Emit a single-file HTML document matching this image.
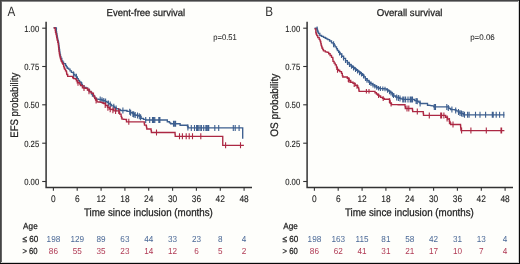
<!DOCTYPE html>
<html><head><meta charset="utf-8"><style>
html,body{margin:0;padding:0;background:#fefefb;}
#w{position:relative;width:520px;height:264px;overflow:hidden;background:#fefefb;}
svg{position:absolute;left:0;top:0;}
text{font-family:"Liberation Sans", sans-serif;stroke:currentColor;stroke-width:0.25px;paint-order:stroke;}
svg{text-rendering:geometricPrecision;will-change:transform;}
.b{position:absolute;}
</style></head><body><div id="w">
<svg width="520" height="264" viewBox="0 0 520 264">
<text transform="translate(7.4,16.3) scale(0.86,1)" font-size="13.6" fill="#333" style="stroke-width:0">A</text>
<text x="106.6" y="16.2" font-size="10" textLength="78.6" lengthAdjust="spacingAndGlyphs" fill="#222" color="#222">Event-free survival</text>
<path d="M46.1 21.8 V187.4 H252.0" fill="none" stroke="#333" stroke-width="1.5"/>
<line x1="42.2" x2="46.1" y1="28.2" y2="28.2" stroke="#333" stroke-width="1.1"/>
<text x="39.2" y="31.8" font-size="9.0" text-anchor="end" textLength="15.0" lengthAdjust="spacingAndGlyphs" fill="#222" color="#222" style="stroke-width:0.1px">1.00</text>
<line x1="42.2" x2="46.1" y1="66.5" y2="66.5" stroke="#333" stroke-width="1.1"/>
<text x="39.2" y="70.1" font-size="9.0" text-anchor="end" textLength="15.0" lengthAdjust="spacingAndGlyphs" fill="#222" color="#222" style="stroke-width:0.1px">0.75</text>
<line x1="42.2" x2="46.1" y1="104.8" y2="104.8" stroke="#333" stroke-width="1.1"/>
<text x="39.2" y="108.4" font-size="9.0" text-anchor="end" textLength="15.0" lengthAdjust="spacingAndGlyphs" fill="#222" color="#222" style="stroke-width:0.1px">0.50</text>
<line x1="42.2" x2="46.1" y1="143.2" y2="143.2" stroke="#333" stroke-width="1.1"/>
<text x="39.2" y="146.8" font-size="9.0" text-anchor="end" textLength="15.0" lengthAdjust="spacingAndGlyphs" fill="#222" color="#222" style="stroke-width:0.1px">0.25</text>
<line x1="42.2" x2="46.1" y1="181.5" y2="181.5" stroke="#333" stroke-width="1.1"/>
<text x="39.2" y="185.1" font-size="9.0" text-anchor="end" textLength="15.0" lengthAdjust="spacingAndGlyphs" fill="#222" color="#222" style="stroke-width:0.1px">0.00</text>
<line x1="53.4" x2="53.4" y1="187.4" y2="190.8" stroke="#333" stroke-width="1.1"/>
<text transform="translate(53.40,201.9) scale(0.88,1)" font-size="9.5" text-anchor="middle" fill="#222" color="#222" style="stroke-width:0.1px">0</text>
<line x1="77.2" x2="77.2" y1="187.4" y2="190.8" stroke="#333" stroke-width="1.1"/>
<text transform="translate(77.24,201.9) scale(0.88,1)" font-size="9.5" text-anchor="middle" fill="#222" color="#222" style="stroke-width:0.1px">6</text>
<line x1="101.1" x2="101.1" y1="187.4" y2="190.8" stroke="#333" stroke-width="1.1"/>
<text transform="translate(101.07,201.9) scale(0.88,1)" font-size="9.5" text-anchor="middle" fill="#222" color="#222" style="stroke-width:0.1px">12</text>
<line x1="124.9" x2="124.9" y1="187.4" y2="190.8" stroke="#333" stroke-width="1.1"/>
<text transform="translate(124.91,201.9) scale(0.88,1)" font-size="9.5" text-anchor="middle" fill="#222" color="#222" style="stroke-width:0.1px">18</text>
<line x1="148.7" x2="148.7" y1="187.4" y2="190.8" stroke="#333" stroke-width="1.1"/>
<text transform="translate(148.75,201.9) scale(0.88,1)" font-size="9.5" text-anchor="middle" fill="#222" color="#222" style="stroke-width:0.1px">24</text>
<line x1="172.6" x2="172.6" y1="187.4" y2="190.8" stroke="#333" stroke-width="1.1"/>
<text transform="translate(172.59,201.9) scale(0.88,1)" font-size="9.5" text-anchor="middle" fill="#222" color="#222" style="stroke-width:0.1px">30</text>
<line x1="196.4" x2="196.4" y1="187.4" y2="190.8" stroke="#333" stroke-width="1.1"/>
<text transform="translate(196.43,201.9) scale(0.88,1)" font-size="9.5" text-anchor="middle" fill="#222" color="#222" style="stroke-width:0.1px">36</text>
<line x1="220.3" x2="220.3" y1="187.4" y2="190.8" stroke="#333" stroke-width="1.1"/>
<text transform="translate(220.26,201.9) scale(0.88,1)" font-size="9.5" text-anchor="middle" fill="#222" color="#222" style="stroke-width:0.1px">42</text>
<line x1="244.1" x2="244.1" y1="187.4" y2="190.8" stroke="#333" stroke-width="1.1"/>
<text transform="translate(244.10,201.9) scale(0.88,1)" font-size="9.5" text-anchor="middle" fill="#222" color="#222" style="stroke-width:0.1px">48</text>
<text x="83.9" y="215.9" font-size="10.9" textLength="129" lengthAdjust="spacingAndGlyphs" fill="#222" color="#222">Time since inclusion (months)</text>
<text transform="translate(17.9,105.2) rotate(-90)" x="0" y="0" font-size="10.9" text-anchor="middle" textLength="65" lengthAdjust="spacingAndGlyphs" fill="#222" color="#222">EFS probability</text>
<text x="213.3" y="39.5" font-size="8.2" textLength="23.4" lengthAdjust="spacingAndGlyphs" fill="#222" color="#222" style="stroke-width:0.05px">p=0.51</text>
<text x="23.1" y="228.9" font-size="8.8" textLength="14.6" lengthAdjust="spacingAndGlyphs" fill="#222" color="#222">Age</text>
<text x="22.4" y="241.6" font-size="8.8" textLength="15.8" lengthAdjust="spacingAndGlyphs" fill="#222" color="#222">≤ 60</text>
<text x="22.4" y="254.1" font-size="8.8" textLength="15.2" lengthAdjust="spacingAndGlyphs" fill="#222" color="#222">&gt; 60</text>
<text transform="translate(53.40,241.6) scale(0.94,1)" font-size="8.7" text-anchor="middle" fill="#4a6896" style="stroke-width:0">198</text>
<text transform="translate(77.24,241.6) scale(0.94,1)" font-size="8.7" text-anchor="middle" fill="#4a6896" style="stroke-width:0">129</text>
<text transform="translate(101.07,241.6) scale(0.94,1)" font-size="8.7" text-anchor="middle" fill="#4a6896" style="stroke-width:0">89</text>
<text transform="translate(124.91,241.6) scale(0.94,1)" font-size="8.7" text-anchor="middle" fill="#4a6896" style="stroke-width:0">63</text>
<text transform="translate(148.75,241.6) scale(0.94,1)" font-size="8.7" text-anchor="middle" fill="#4a6896" style="stroke-width:0">44</text>
<text transform="translate(172.59,241.6) scale(0.94,1)" font-size="8.7" text-anchor="middle" fill="#4a6896" style="stroke-width:0">33</text>
<text transform="translate(196.43,241.6) scale(0.94,1)" font-size="8.7" text-anchor="middle" fill="#4a6896" style="stroke-width:0">23</text>
<text transform="translate(220.26,241.6) scale(0.94,1)" font-size="8.7" text-anchor="middle" fill="#4a6896" style="stroke-width:0">8</text>
<text transform="translate(244.10,241.6) scale(0.94,1)" font-size="8.7" text-anchor="middle" fill="#4a6896" style="stroke-width:0">4</text>
<text transform="translate(53.40,254.1) scale(0.94,1)" font-size="8.7" text-anchor="middle" fill="#b03a55" style="stroke-width:0">86</text>
<text transform="translate(77.24,254.1) scale(0.94,1)" font-size="8.7" text-anchor="middle" fill="#b03a55" style="stroke-width:0">55</text>
<text transform="translate(101.07,254.1) scale(0.94,1)" font-size="8.7" text-anchor="middle" fill="#b03a55" style="stroke-width:0">35</text>
<text transform="translate(124.91,254.1) scale(0.94,1)" font-size="8.7" text-anchor="middle" fill="#b03a55" style="stroke-width:0">23</text>
<text transform="translate(148.75,254.1) scale(0.94,1)" font-size="8.7" text-anchor="middle" fill="#b03a55" style="stroke-width:0">14</text>
<text transform="translate(172.59,254.1) scale(0.94,1)" font-size="8.7" text-anchor="middle" fill="#b03a55" style="stroke-width:0">12</text>
<text transform="translate(196.43,254.1) scale(0.94,1)" font-size="8.7" text-anchor="middle" fill="#b03a55" style="stroke-width:0">6</text>
<text transform="translate(220.26,254.1) scale(0.94,1)" font-size="8.7" text-anchor="middle" fill="#b03a55" style="stroke-width:0">5</text>
<text transform="translate(244.10,254.1) scale(0.94,1)" font-size="8.7" text-anchor="middle" fill="#b03a55" style="stroke-width:0">2</text>
<text transform="translate(265.2,16.3) scale(0.86,1)" font-size="13.6" fill="#333" style="stroke-width:0">B</text>
<text x="376.7" y="16.2" font-size="10" textLength="65.8" lengthAdjust="spacingAndGlyphs" fill="#222" color="#222">Overall survival</text>
<path d="M307.1 21.8 V187.4 H513.0" fill="none" stroke="#333" stroke-width="1.5"/>
<line x1="303.2" x2="307.1" y1="28.2" y2="28.2" stroke="#333" stroke-width="1.1"/>
<text x="300.2" y="31.8" font-size="9.0" text-anchor="end" textLength="15.0" lengthAdjust="spacingAndGlyphs" fill="#222" color="#222" style="stroke-width:0.1px">1.00</text>
<line x1="303.2" x2="307.1" y1="66.5" y2="66.5" stroke="#333" stroke-width="1.1"/>
<text x="300.2" y="70.1" font-size="9.0" text-anchor="end" textLength="15.0" lengthAdjust="spacingAndGlyphs" fill="#222" color="#222" style="stroke-width:0.1px">0.75</text>
<line x1="303.2" x2="307.1" y1="104.8" y2="104.8" stroke="#333" stroke-width="1.1"/>
<text x="300.2" y="108.4" font-size="9.0" text-anchor="end" textLength="15.0" lengthAdjust="spacingAndGlyphs" fill="#222" color="#222" style="stroke-width:0.1px">0.50</text>
<line x1="303.2" x2="307.1" y1="143.2" y2="143.2" stroke="#333" stroke-width="1.1"/>
<text x="300.2" y="146.8" font-size="9.0" text-anchor="end" textLength="15.0" lengthAdjust="spacingAndGlyphs" fill="#222" color="#222" style="stroke-width:0.1px">0.25</text>
<line x1="303.2" x2="307.1" y1="181.5" y2="181.5" stroke="#333" stroke-width="1.1"/>
<text x="300.2" y="185.1" font-size="9.0" text-anchor="end" textLength="15.0" lengthAdjust="spacingAndGlyphs" fill="#222" color="#222" style="stroke-width:0.1px">0.00</text>
<line x1="314.4" x2="314.4" y1="187.4" y2="190.8" stroke="#333" stroke-width="1.1"/>
<text transform="translate(314.40,201.9) scale(0.88,1)" font-size="9.5" text-anchor="middle" fill="#222" color="#222" style="stroke-width:0.1px">0</text>
<line x1="338.2" x2="338.2" y1="187.4" y2="190.8" stroke="#333" stroke-width="1.1"/>
<text transform="translate(338.24,201.9) scale(0.88,1)" font-size="9.5" text-anchor="middle" fill="#222" color="#222" style="stroke-width:0.1px">6</text>
<line x1="362.1" x2="362.1" y1="187.4" y2="190.8" stroke="#333" stroke-width="1.1"/>
<text transform="translate(362.07,201.9) scale(0.88,1)" font-size="9.5" text-anchor="middle" fill="#222" color="#222" style="stroke-width:0.1px">12</text>
<line x1="385.9" x2="385.9" y1="187.4" y2="190.8" stroke="#333" stroke-width="1.1"/>
<text transform="translate(385.91,201.9) scale(0.88,1)" font-size="9.5" text-anchor="middle" fill="#222" color="#222" style="stroke-width:0.1px">18</text>
<line x1="409.8" x2="409.8" y1="187.4" y2="190.8" stroke="#333" stroke-width="1.1"/>
<text transform="translate(409.75,201.9) scale(0.88,1)" font-size="9.5" text-anchor="middle" fill="#222" color="#222" style="stroke-width:0.1px">24</text>
<line x1="433.6" x2="433.6" y1="187.4" y2="190.8" stroke="#333" stroke-width="1.1"/>
<text transform="translate(433.59,201.9) scale(0.88,1)" font-size="9.5" text-anchor="middle" fill="#222" color="#222" style="stroke-width:0.1px">30</text>
<line x1="457.4" x2="457.4" y1="187.4" y2="190.8" stroke="#333" stroke-width="1.1"/>
<text transform="translate(457.43,201.9) scale(0.88,1)" font-size="9.5" text-anchor="middle" fill="#222" color="#222" style="stroke-width:0.1px">36</text>
<line x1="481.3" x2="481.3" y1="187.4" y2="190.8" stroke="#333" stroke-width="1.1"/>
<text transform="translate(481.26,201.9) scale(0.88,1)" font-size="9.5" text-anchor="middle" fill="#222" color="#222" style="stroke-width:0.1px">42</text>
<line x1="505.1" x2="505.1" y1="187.4" y2="190.8" stroke="#333" stroke-width="1.1"/>
<text transform="translate(505.10,201.9) scale(0.88,1)" font-size="9.5" text-anchor="middle" fill="#222" color="#222" style="stroke-width:0.1px">48</text>
<text x="344.9" y="215.9" font-size="10.9" textLength="129" lengthAdjust="spacingAndGlyphs" fill="#222" color="#222">Time since inclusion (months)</text>
<text transform="translate(277.6,105.2) rotate(-90)" x="0" y="0" font-size="10.9" text-anchor="middle" textLength="63" lengthAdjust="spacingAndGlyphs" fill="#222" color="#222">OS probability</text>
<text x="470.2" y="39.5" font-size="8.2" textLength="24.6" lengthAdjust="spacingAndGlyphs" fill="#222" color="#222" style="stroke-width:0.05px">p=0.06</text>
<text x="283.3" y="228.9" font-size="8.8" textLength="14.6" lengthAdjust="spacingAndGlyphs" fill="#222" color="#222">Age</text>
<text x="282.6" y="241.6" font-size="8.8" textLength="15.8" lengthAdjust="spacingAndGlyphs" fill="#222" color="#222">≤ 60</text>
<text x="282.6" y="254.1" font-size="8.8" textLength="15.2" lengthAdjust="spacingAndGlyphs" fill="#222" color="#222">&gt; 60</text>
<text transform="translate(314.40,241.6) scale(0.94,1)" font-size="8.7" text-anchor="middle" fill="#4a6896" style="stroke-width:0">198</text>
<text transform="translate(338.24,241.6) scale(0.94,1)" font-size="8.7" text-anchor="middle" fill="#4a6896" style="stroke-width:0">163</text>
<text transform="translate(362.07,241.6) scale(0.94,1)" font-size="8.7" text-anchor="middle" fill="#4a6896" style="stroke-width:0">115</text>
<text transform="translate(385.91,241.6) scale(0.94,1)" font-size="8.7" text-anchor="middle" fill="#4a6896" style="stroke-width:0">81</text>
<text transform="translate(409.75,241.6) scale(0.94,1)" font-size="8.7" text-anchor="middle" fill="#4a6896" style="stroke-width:0">58</text>
<text transform="translate(433.59,241.6) scale(0.94,1)" font-size="8.7" text-anchor="middle" fill="#4a6896" style="stroke-width:0">42</text>
<text transform="translate(457.43,241.6) scale(0.94,1)" font-size="8.7" text-anchor="middle" fill="#4a6896" style="stroke-width:0">31</text>
<text transform="translate(481.26,241.6) scale(0.94,1)" font-size="8.7" text-anchor="middle" fill="#4a6896" style="stroke-width:0">13</text>
<text transform="translate(505.10,241.6) scale(0.94,1)" font-size="8.7" text-anchor="middle" fill="#4a6896" style="stroke-width:0">4</text>
<text transform="translate(314.40,254.1) scale(0.94,1)" font-size="8.7" text-anchor="middle" fill="#b03a55" style="stroke-width:0">86</text>
<text transform="translate(338.24,254.1) scale(0.94,1)" font-size="8.7" text-anchor="middle" fill="#b03a55" style="stroke-width:0">62</text>
<text transform="translate(362.07,254.1) scale(0.94,1)" font-size="8.7" text-anchor="middle" fill="#b03a55" style="stroke-width:0">41</text>
<text transform="translate(385.91,254.1) scale(0.94,1)" font-size="8.7" text-anchor="middle" fill="#b03a55" style="stroke-width:0">31</text>
<text transform="translate(409.75,254.1) scale(0.94,1)" font-size="8.7" text-anchor="middle" fill="#b03a55" style="stroke-width:0">21</text>
<text transform="translate(433.59,254.1) scale(0.94,1)" font-size="8.7" text-anchor="middle" fill="#b03a55" style="stroke-width:0">17</text>
<text transform="translate(457.43,254.1) scale(0.94,1)" font-size="8.7" text-anchor="middle" fill="#b03a55" style="stroke-width:0">10</text>
<text transform="translate(481.26,254.1) scale(0.94,1)" font-size="8.7" text-anchor="middle" fill="#b03a55" style="stroke-width:0">7</text>
<text transform="translate(505.10,254.1) scale(0.94,1)" font-size="8.7" text-anchor="middle" fill="#b03a55" style="stroke-width:0">4</text>
<path d="M53.60 27.60 L56.50 27.60 L56.40 27.60 L56.40 29.07 L56.30 29.07 L56.30 30.53 L56.20 30.53 L56.20 32.00 L56.60 32.00 L56.60 34.00 L57.00 34.00 L57.00 36.00 L57.27 36.00 L57.27 37.47 L57.53 37.47 L57.53 38.93 L57.80 38.93 L57.80 40.40 L58.20 40.40 L58.20 42.20 L58.60 42.20 L58.60 44.00 L58.85 44.00 L58.85 45.80 L59.10 45.80 L59.10 47.60 L59.35 47.60 L59.35 49.45 L59.60 49.45 L59.60 51.30 L59.85 51.30 L59.85 53.10 L60.10 53.10 L60.10 54.90 L60.50 54.90 L60.50 56.70 L60.90 56.70 L60.90 58.50 L61.80 58.50 L61.80 60.90 L62.70 60.90 L62.70 62.25 L63.60 62.25 L63.60 63.60 L65.50 63.60 L65.50 65.50 L66.40 65.50 L66.40 66.85 L67.30 66.85 L67.30 68.20 L68.60 68.20 L68.60 69.10 L70.00 69.10 L70.00 70.90 L71.40 70.90 L71.40 72.30 L73.20 72.30 L73.20 72.70 L73.60 72.70 L73.60 74.50 L75.00 74.50 L75.00 75.90 L76.40 75.90 L76.40 76.80 L77.30 76.80 L77.30 78.60 L78.20 78.60 L78.20 80.50 L79.50 80.50 L79.50 81.80 L80.90 81.80 L80.90 82.70 L81.65 82.70 L81.65 84.30 L82.40 84.30 L82.40 85.90 L84.00 85.90 L84.00 87.40 L86.00 87.40 L86.00 88.20 L87.80 88.20 L87.80 89.80 L89.50 89.80 L89.50 91.80 L91.50 91.80 L91.50 94.00 L92.50 94.00 L92.50 96.00 L94.70 96.00 L94.70 98.20 L96.50 98.20 L96.50 99.10 L98.35 99.10 L98.35 99.30 L100.20 99.30 L100.20 99.50 L101.55 99.50 L101.55 100.00 L102.90 100.00 L102.90 100.50 L105.20 100.50 L105.20 101.40 L107.00 101.40 L107.00 102.30 L108.40 102.30 L108.40 103.60 L110.20 103.60 L110.20 104.50 L111.50 104.50 L111.50 105.90 L113.80 105.90 L113.80 106.80 L114.70 106.80 L114.70 107.70 L116.10 107.70 L116.10 108.60 L118.40 108.60 L118.40 109.50 L120.20 109.50 L120.20 110.50 L124.70 110.50 L127.00 110.50 L127.00 111.40 L129.30 111.40 L130.60 111.40 L130.60 112.70 L132.50 112.70 L132.50 113.60 L134.30 113.60 L134.30 115.00 L135.90 115.00 L135.90 115.25 L137.50 115.25 L137.50 115.50 L138.85 115.50 L138.85 116.00 L140.20 116.00 L140.20 116.50 L141.10 116.50 L141.10 118.30 L143.40 118.30 L143.40 119.40 L145.70 119.40 L145.70 120.00 L166.10 120.00 L167.30 120.00 L167.30 121.70 L169.50 121.70 L169.50 122.80 L170.70 122.80 L170.70 123.70 L179.50 123.70 L180.10 123.70 L180.10 125.20 L186.90 125.20 L187.50 125.20 L187.50 126.55 L188.10 126.55 L188.10 127.90 L242.70 127.90 L242.70 138.70" fill="none" stroke="#3d5f8f" stroke-width="1.35" stroke-linejoin="miter"/>
<path d="M73.6 71.5V77.5 M76.4 73.8V79.8 M100.2 96.5V102.5 M102.0 97.2V103.2 M103.8 97.9V103.9 M105.6 98.6V104.6 M108.4 100.6V106.6 M110.2 101.5V107.5 M113.8 103.8V109.8 M116.1 105.6V111.6 M122.9 107.5V113.5 M129.7 108.8V114.8 M130.6 109.7V115.7 M132.9 110.9V116.9 M133.8 111.6V117.6 M135.2 112.1V118.1 M137.5 112.5V118.5 M139.3 113.2V119.2 M140.6 114.3V120.3 M145.7 117.0V123.0 M149.7 117.0V123.0 M152.5 117.0V123.0 M153.6 117.0V123.0 M154.8 117.0V123.0 M158.8 117.0V123.0 M159.9 117.0V123.0 M173.5 120.7V126.7 M174.7 120.7V126.7 M175.6 120.7V126.7 M187.9 124.5V130.5 M191.3 124.9V130.9 M194.5 124.9V130.9 M196.6 124.9V130.9 M197.4 124.9V130.9 M198.2 124.9V130.9 M200.0 124.9V130.9 M201.4 124.9V130.9 M203.7 124.9V130.9 M205.9 124.9V130.9 M206.4 124.9V130.9 M207.7 124.9V130.9 M208.7 124.9V130.9 M214.8 124.9V130.9 M218.7 124.9V130.9 M233.3 124.9V130.9 M235.2 124.9V130.9 M239.1 124.9V130.9" stroke="#3d5f8f" stroke-width="1.1"/>
<path d="M53.60 28.00 L55.00 28.00 L55.00 28.30 L55.25 28.30 L55.25 30.25 L55.50 30.25 L55.50 32.20 L55.95 32.20 L55.95 34.00 L56.40 34.00 L56.40 35.80 L56.70 35.80 L56.70 37.33 L57.00 37.33 L57.00 38.87 L57.30 38.87 L57.30 40.40 L57.75 40.40 L57.75 42.20 L58.20 42.20 L58.20 44.00 L58.40 44.00 L58.40 45.80 L58.60 45.80 L58.60 47.60 L58.80 47.60 L58.80 49.45 L59.00 49.45 L59.00 51.30 L59.25 51.30 L59.25 53.10 L59.50 53.10 L59.50 54.90 L59.95 54.90 L59.95 56.70 L60.40 56.70 L60.40 58.50 L60.85 58.50 L60.85 59.90 L61.30 59.90 L61.30 61.30 L62.00 61.30 L62.00 62.70 L62.70 62.70 L62.70 64.10 L63.60 64.10 L63.60 66.40 L64.05 66.40 L64.05 67.75 L64.50 67.75 L64.50 69.10 L65.50 69.10 L65.50 70.90 L66.40 70.90 L66.40 71.80 L66.60 71.80 L66.60 73.15 L66.80 73.15 L66.80 74.50 L67.70 74.50 L67.70 76.40 L71.80 76.40 L72.70 76.40 L72.70 77.70 L73.60 77.70 L73.60 78.60 L75.50 78.60 L75.50 79.10 L76.40 79.10 L76.40 80.90 L77.30 80.90 L77.30 82.70 L79.10 82.70 L79.80 82.70 L79.80 84.10 L80.50 84.10 L80.50 85.50 L82.40 85.50 L82.40 87.80 L83.75 87.80 L83.75 88.00 L85.10 88.00 L85.10 88.20 L87.40 88.20 L87.40 90.00 L89.20 90.00 L89.20 91.40 L91.00 91.40 L91.00 92.80 L92.00 92.80 L92.00 93.20 L93.40 93.20 L93.40 95.50 L94.13 95.50 L94.13 97.00 L94.87 97.00 L94.87 98.50 L95.60 98.50 L95.60 100.00 L97.00 100.00 L97.00 101.80 L98.37 101.80 L98.37 101.97 L99.73 101.97 L99.73 102.13 L101.10 102.13 L101.10 102.30 L102.45 102.30 L102.45 102.95 L103.80 102.95 L103.80 103.60 L105.60 103.60 L105.60 105.50 L107.50 105.50 L107.50 107.30 L109.30 107.30 L109.30 109.10 L110.65 109.10 L110.65 109.30 L112.00 109.30 L112.00 109.50 L113.80 109.50 L113.80 110.90 L118.80 110.90 L119.25 110.90 L119.25 112.50 L119.70 112.50 L119.70 114.10 L121.10 114.10 L121.10 116.40 L121.55 116.40 L121.55 117.75 L122.00 117.75 L122.00 119.10 L123.80 119.10 L123.80 119.30 L125.60 119.30 L125.60 119.50 L126.50 119.50 L126.50 121.80 L144.00 121.80 L144.25 121.80 L144.25 123.45 L144.50 123.45 L144.50 125.10 L146.30 125.10 L146.30 126.20 L146.55 126.20 L146.55 127.60 L146.80 127.60 L146.80 129.00 L150.80 129.00 L151.10 129.00 L151.10 130.75 L151.40 130.75 L151.40 132.50 L174.90 132.50 L175.05 132.50 L175.05 134.40 L175.20 134.40 L175.20 136.30 L222.75 136.30 L222.75 145.30 L243.90 145.30" fill="none" stroke="#ac2843" stroke-width="1.35" stroke-linejoin="miter"/>
<path d="M78.0 79.7V85.7 M84.0 85.0V91.0 M89.0 88.2V94.2 M96.1 97.6V103.6 M105.2 102.1V108.1 M107.9 104.7V110.7 M110.2 106.2V112.2 M112.9 107.2V113.2 M115.6 107.9V113.9 M118.8 107.9V113.9 M128.8 118.8V124.8 M156.5 129.5V135.5 M179.5 133.3V139.3 M182.4 133.3V139.3 M186.2 133.3V139.3 M189.2 133.3V139.3 M192.5 133.3V139.3 M200.8 133.3V139.3 M225.6 142.3V148.3 M240.5 142.3V148.3" stroke="#ac2843" stroke-width="1.1"/>
<path d="M314.60 28.20 L316.60 28.20 L317.05 28.20 L317.05 29.50 L317.50 29.50 L317.50 30.80 L318.00 30.80 L318.00 32.15 L318.50 32.15 L318.50 33.50 L319.80 33.50 L319.80 35.50 L321.60 35.50 L321.60 36.40 L323.50 36.40 L323.50 37.30 L325.30 37.30 L325.30 38.20 L326.55 38.20 L326.55 38.90 L327.80 38.90 L327.80 39.60 L329.60 39.60 L329.60 41.00 L331.50 41.00 L331.50 42.80 L333.30 42.80 L333.30 43.70 L334.20 43.70 L334.20 45.10 L335.10 45.10 L335.10 46.90 L336.50 46.90 L336.50 48.70 L337.40 48.70 L337.40 50.50 L338.70 50.50 L338.70 52.40 L340.10 52.40 L340.10 54.00 L341.80 54.00 L341.80 56.20 L343.60 56.20 L343.60 58.40 L345.50 58.40 L345.50 60.60 L347.30 60.60 L347.30 62.50 L349.10 62.50 L349.10 64.40 L350.90 64.40 L350.90 66.00 L352.70 66.00 L352.70 67.40 L354.50 67.40 L354.50 68.90 L356.40 68.90 L356.40 70.30 L358.20 70.30 L358.20 71.90 L360.50 71.90 L360.50 73.60 L362.70 73.60 L362.70 75.20 L364.00 75.20 L364.00 76.90 L365.30 76.90 L365.30 78.60 L367.10 78.60 L367.10 80.50 L368.90 80.50 L368.90 82.30 L370.70 82.30 L370.70 83.60 L372.50 83.60 L372.50 84.80 L374.40 84.80 L374.40 86.00 L376.20 86.00 L376.20 87.20 L378.00 87.20 L378.00 88.00 L379.80 88.00 L379.80 88.60 L381.37 88.60 L381.37 88.67 L382.93 88.67 L382.93 88.73 L384.50 88.73 L384.50 88.80 L386.50 88.80 L386.50 89.80 L388.40 89.80 L388.40 91.10 L390.20 91.10 L390.20 92.50 L392.00 92.50 L392.00 93.90 L393.80 93.90 L393.80 96.00 L395.70 96.00 L395.70 97.10 L398.00 97.10 L398.00 97.70 L399.40 97.70 L399.40 98.25 L400.80 98.25 L400.80 98.80 L402.50 98.80 L402.50 99.40 L412.70 99.40 L414.40 99.40 L414.40 100.50 L416.10 100.50 L416.10 100.90 L417.80 100.90 L417.80 101.30 L419.00 101.30 L419.00 102.40 L420.10 102.40 L420.10 103.50 L426.40 103.50 L427.50 103.50 L427.50 105.20 L429.00 105.20 L429.00 105.40 L430.50 105.40 L430.50 105.60 L432.00 105.60 L432.00 105.80 L433.80 105.80 L433.80 106.90 L447.10 106.90 L448.90 106.90 L448.90 108.50 L450.70 108.50 L450.70 109.50 L452.07 109.50 L452.07 109.57 L453.43 109.57 L453.43 109.63 L454.80 109.63 L454.80 109.70 L455.90 109.70 L455.90 110.80 L458.20 110.80 L458.20 111.90 L459.90 111.90 L459.90 113.10 L461.30 113.10 L461.30 113.35 L462.70 113.35 L462.70 113.60 L463.60 113.60 L463.60 114.80 L504.40 114.80" fill="none" stroke="#3d5f8f" stroke-width="1.35" stroke-linejoin="miter"/>
<path d="M317.1 26.6V32.6 M333.6 41.2V47.2 M339.5 51.0V55.6 M341.5 53.5V58.1 M343.5 56.0V60.6 M345.5 58.3V62.9 M347.5 60.4V65.0 M349.5 62.5V67.1 M351.5 64.2V68.8 M353.5 65.8V70.4 M355.5 67.3V71.9 M357.5 69.0V73.6 M359.5 70.6V75.2 M361.5 72.0V76.6 M363.5 73.9V78.5 M365.5 76.5V81.1 M367.0 78.1V82.7 M369.5 80.4V85.0 M371.0 81.5V86.1 M373.0 82.8V87.4 M374.8 84.0V88.6 M376.7 85.1V89.7 M378.5 85.9V90.5 M380.4 86.3V90.9 M382.8 86.4V91.0 M385.0 86.8V91.3 M387.5 88.2V92.8 M389.5 89.7V94.3 M391.0 90.8V95.4 M392.5 92.2V96.8 M393.5 93.3V97.9 M396.7 94.4V100.4 M398.4 94.9V100.9 M400.0 95.5V101.5 M402.8 96.4V102.4 M404.0 96.4V102.4 M405.6 96.4V102.4 M408.0 96.4V102.4 M410.2 96.4V102.4 M411.3 96.4V102.4 M412.5 96.4V102.4 M416.1 97.9V103.9 M417.3 98.2V104.2 M420.1 100.5V106.5 M434.3 103.9V109.9 M435.5 103.9V109.9 M446.8 103.9V109.9 M448.3 105.0V111.0 M451.9 106.6V112.6 M455.7 107.6V113.6 M458.5 109.1V115.1 M460.0 110.1V116.1 M461.5 110.4V116.4 M463.0 111.0V117.0 M464.5 111.8V117.8 M467.6 111.8V117.8 M469.1 111.8V117.8 M475.5 111.8V117.8 M480.0 111.8V117.8 M485.6 111.8V117.8 M492.3 111.8V117.8 M493.2 111.8V117.8 M496.2 111.8V117.8 M499.6 111.8V117.8 M503.8 111.8V117.8" stroke="#3d5f8f" stroke-width="1.1"/>
<path d="M314.40 28.80 L315.80 28.80 L315.80 32.90 L316.30 32.90 L316.30 34.25 L316.80 34.25 L316.80 35.60 L317.80 35.60 L317.80 37.60 L319.20 37.60 L319.20 39.30 L320.00 39.30 L320.00 40.90 L320.50 40.90 L320.50 42.00 L320.85 42.00 L320.85 43.75 L321.20 43.75 L321.20 45.50 L321.65 45.50 L321.65 46.85 L322.10 46.85 L322.10 48.20 L322.80 48.20 L322.80 49.55 L323.50 49.55 L323.50 50.90 L325.30 50.90 L325.30 51.80 L326.55 51.80 L326.55 52.05 L327.80 52.05 L327.80 52.30 L328.70 52.30 L328.70 53.70 L330.10 53.70 L330.10 55.50 L331.50 55.50 L331.50 57.40 L332.80 57.40 L332.80 59.20 L333.00 59.20 L333.00 61.40 L334.10 61.40 L334.10 63.10 L335.20 63.10 L335.20 64.80 L336.40 64.80 L336.40 67.00 L336.90 67.00 L336.90 69.30 L338.60 69.30 L338.60 70.50 L339.80 70.50 L339.80 71.60 L341.50 71.60 L341.50 73.30 L342.30 73.30 L342.30 75.60 L342.80 75.60 L342.80 77.00 L345.00 77.00 L347.30 77.00 L347.30 78.20 L349.00 78.20 L349.00 80.50 L350.70 80.50 L350.70 82.20 L353.00 82.20 L353.00 83.30 L355.20 83.30 L355.20 85.60 L356.40 85.60 L357.70 85.60 L357.70 87.30 L358.60 87.30 L358.60 88.60 L358.85 88.60 L358.85 89.95 L359.10 89.95 L359.10 91.30 L373.60 91.30 L375.00 91.30 L375.00 92.70 L376.40 92.70 L376.40 94.00 L377.60 94.00 L377.60 95.00 L378.80 95.00 L378.80 96.00 L380.60 96.00 L380.60 97.40 L382.50 97.40 L382.50 98.30 L384.30 98.30 L384.30 99.20 L388.40 99.20 L389.70 99.20 L389.70 101.00 L390.20 101.00 L390.20 103.30 L391.50 103.30 L391.50 104.60 L393.16 104.60 L393.16 104.62 L394.82 104.62 L394.82 104.65 L396.49 104.65 L396.49 104.67 L398.15 104.67 L398.15 104.70 L399.81 104.70 L399.81 104.72 L401.48 104.72 L401.48 104.75 L403.14 104.75 L403.14 104.77 L404.80 104.77 L404.80 104.80 L405.05 104.80 L405.05 106.65 L405.30 106.65 L405.30 108.50 L412.20 108.50 L412.45 108.50 L412.45 110.05 L412.70 110.05 L412.70 111.60 L423.00 111.60 L423.25 111.60 L423.25 113.50 L423.50 113.50 L423.50 115.40 L444.80 115.40 L445.70 115.40 L445.70 117.20 L447.50 117.20 L447.50 119.00 L449.40 119.00 L449.40 121.30 L450.05 121.30 L450.05 122.90 L450.70 122.90 L450.70 124.50 L460.40 124.50 L460.55 124.50 L460.55 126.03 L460.70 126.03 L460.70 127.55 L460.85 127.55 L460.85 129.07 L461.00 129.07 L461.00 130.60 L504.40 130.60" fill="none" stroke="#ac2843" stroke-width="1.35" stroke-linejoin="miter"/>
<path d="M337.5 66.7V72.7 M348.3 77.3V81.9 M349.1 78.3V82.9 M354.2 82.3V86.9 M357.0 84.1V88.7 M366.4 89.0V93.6 M369.0 89.0V93.6 M378.6 93.5V98.1 M383.2 96.3V100.9 M389.4 98.3V102.9 M391.1 101.9V106.5 M407.0 105.5V111.5 M408.8 105.5V111.5 M417.3 108.6V114.6 M429.3 112.4V118.4 M440.7 112.4V118.4 M441.6 112.4V118.4 M443.9 112.4V118.4 M447.1 115.6V121.6 M449.4 118.3V124.3 M453.0 121.5V127.5 M461.6 127.6V133.6 M470.9 127.6V133.6 M486.3 127.6V133.6 M501.0 127.6V133.6 M501.6 127.6V133.6" stroke="#ac2843" stroke-width="1.1"/>
</svg>
<div class="b" style="left:0;top:0;width:520px;height:1px;background:#454545"></div>
<div class="b" style="left:0;top:1px;width:520px;height:1px;background:#8a8a8a"></div>
<div class="b" style="left:1px;top:1px;width:1px;height:262px;background:#666"></div>
<div class="b" style="left:0;top:0;width:1px;height:264px;background:#454545"></div>
<div class="b" style="right:1px;top:1px;width:1px;height:262px;background:#d0d0d0"></div>
<div class="b" style="left:1px;bottom:1px;width:518px;height:1px;background:#d0d0d0"></div>
<div class="b" style="right:0;top:0;width:1px;height:264px;background:#0a0a0a"></div>
<div class="b" style="left:0;bottom:0;width:520px;height:1px;background:#080808"></div>
</div></body></html>
